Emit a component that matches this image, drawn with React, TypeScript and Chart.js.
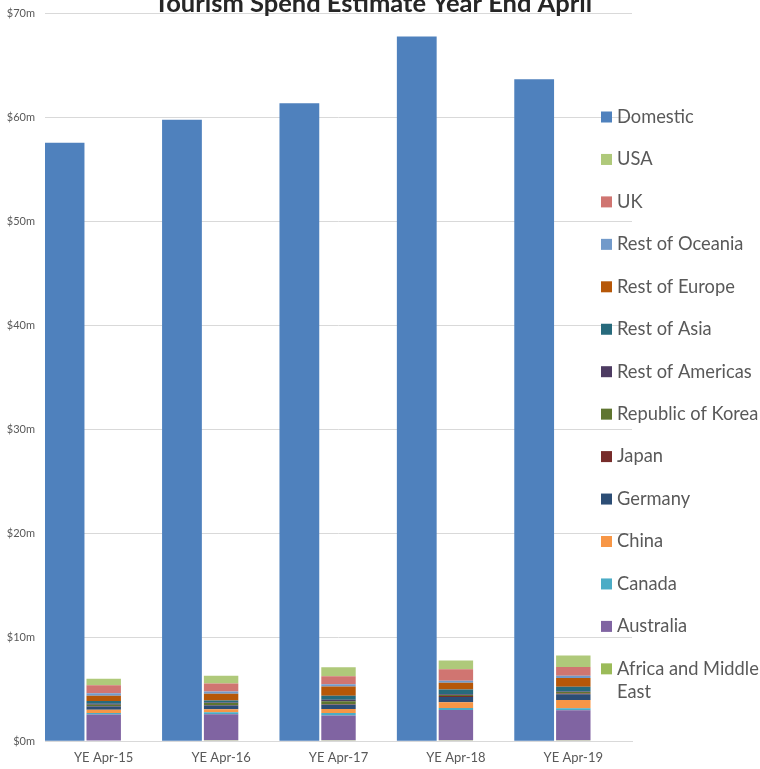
import React, { useEffect, useRef } from "react";
import { Chart, registerables } from "chart.js";

Chart.register(...registerables);

const categories = ["YE Apr-15", "YE Apr-16", "YE Apr-17", "YE Apr-18", "YE Apr-19"];

// $ millions
const domestic = [57.5, 59.7, 61.3, 67.7, 63.6];
const africaMiddleEast = [0.06, 0.07, 0.07, 0.08, 0.07];
const australia = [2.5, 2.5, 2.37, 2.91, 2.88];
const canada = [0.13, 0.19, 0.26, 0.19, 0.19];
const china = [0.32, 0.29, 0.38, 0.55, 0.8];
const germany = [0.3, 0.36, 0.41, 0.51, 0.55];
const japan = [0.06, 0.05, 0.05, 0.08, 0.07];
const korea = [0.12, 0.19, 0.29, 0.1, 0.16];
const restAmericas = [0.1, 0.06, 0.13, 0.07, 0.05];
const restAsia = [0.25, 0.19, 0.38, 0.45, 0.45];
const restEurope = [0.51, 0.64, 0.89, 0.67, 0.84];
const restOceania = [0.23, 0.22, 0.22, 0.19, 0.22];
const uk = [0.77, 0.77, 0.77, 1.09, 0.84];
const usa = [0.63, 0.74, 0.87, 0.84, 1.09];

const intlSeries: [string, number[], string][] = [
  ["Africa and Middle East", africaMiddleEast, "#9BBB59"],
  ["Australia", australia, "#8064A2"],
  ["Canada", canada, "#4BACC6"],
  ["China", china, "#F79646"],
  ["Germany", germany, "#2C4D75"],
  ["Japan", japan, "#772C2A"],
  ["Republic of Korea", korea, "#5F7530"],
  ["Rest of Americas", restAmericas, "#4D3B62"],
  ["Rest of Asia", restAsia, "#276A7C"],
  ["Rest of Europe", restEurope, "#B65708"],
  ["Rest of Oceania", restOceania, "#729ACA"],
  ["UK", uk, "#D07571"],
  ["USA", usa, "#AFC97A"],
];

const FONT = "Lato, 'Liberation Sans', sans-serif";

const titlePlugin = {
  id: "customTitle",
  afterDraw(chart: any) {
    const ctx = chart.ctx;
    ctx.save();
    ctx.font = `bold 25.5px ${FONT}`;
    ctx.fillStyle = "#262626";
    ctx.textAlign = "center";
    ctx.textBaseline = "alphabetic";
    ctx.fillText("Tourism Spend Estimate Year End April", 373, 12);
    ctx.restore();
  },
};

const legendPlugin = {
  id: "customLegend",
  afterDraw(chart: any) {
    const ctx = chart.ctx;
    const ds = chart.data.datasets.filter((d: any) => d.label);
    const order = [ds[0], ...ds.slice(1).reverse()];
    ctx.save();
    ctx.font = `18.3px ${FONT}`;
    ctx.textBaseline = "middle";
    ctx.textAlign = "left";
    const boxX = 601;
    const textX = 617;
    const maxW = 146;
    let y = 117;
    const step = 42.45;
    for (const d of order) {
      ctx.fillStyle = d.backgroundColor;
      ctx.fillRect(boxX, y - 5.5, 11, 11);
      ctx.fillStyle = "#595959";
      const words = String(d.label).split(" ");
      const lines: string[] = [];
      let cur = "";
      for (const w of words) {
        const t = cur ? cur + " " + w : w;
        if (ctx.measureText(t).width > maxW && cur) {
          lines.push(cur);
          cur = w;
        } else cur = t;
      }
      if (cur) lines.push(cur);
      lines.forEach((ln, i) => ctx.fillText(ln, textX, y + i * 23.5));
      y += step;
    }
    ctx.restore();
  },
};

export default function App() {
  const ref = useRef<HTMLCanvasElement | null>(null);
  useEffect(() => {
    if (!ref.current) return;
    const datasets: any[] = [
      {
        label: "Domestic",
        data: domestic,
        backgroundColor: "#4F81BD",
        stack: "dom",
        barPercentage: 1.0,
      },
      ...intlSeries.map(([label, data, color]) => ({
        label,
        data,
        backgroundColor: color,
        stack: "intl",
        barPercentage: 0.88,
      })),
      {
        label: "",
        data: categories.map(() => null),
        backgroundColor: "rgba(0,0,0,0)",
        stack: "empty",
      },
    ];
    const chart = new Chart(ref.current, {
      type: "bar",
      data: { labels: categories, datasets },
      plugins: [titlePlugin, legendPlugin],
      options: {
        animation: false,
        responsive: false,
        layout: { padding: { top: 13, right: 128, left: 0, bottom: 0 } },
        datasets: { bar: { categoryPercentage: 1.0 } } as any,
        plugins: {
          legend: { display: false },
          title: { display: false },
          tooltip: { enabled: false },
        },
        scales: {
          x: {
            stacked: true,
            grid: { display: false, drawTicks: false },
            border: { display: true, color: "#d9d9d9", width: 1 },
            ticks: {
              color: "#595959",
              font: { family: FONT, size: 13 },
              padding: 9,
            },
            afterFit: (s: any) => {
              s.height = 28;
              s.paddingTop = 0;
              s.paddingBottom = 0;
            },
          },
          y: {
            stacked: true,
            min: 0,
            max: 70,
            grid: { color: "#d9d9d9", drawTicks: false },
            border: { display: false },
            ticks: {
              stepSize: 10,
              color: "#595959",
              font: { family: FONT, size: 11 },
              padding: 10,
              callback: (v: any) => `$${v}m`,
            },
            afterFit: (s: any) => {
              s.width = 45;
              s.paddingTop = 0;
              s.paddingBottom = 0;
            },
          },
        },
      },
    });
    return () => chart.destroy();
  }, []);
  return (
    <div style={{ position: "absolute", left: 0, top: 0, width: 760, height: 769, background: "#fff" }}>
      <canvas ref={ref} width={760} height={769} style={{ display: "block" }} />
    </div>
  );
}
